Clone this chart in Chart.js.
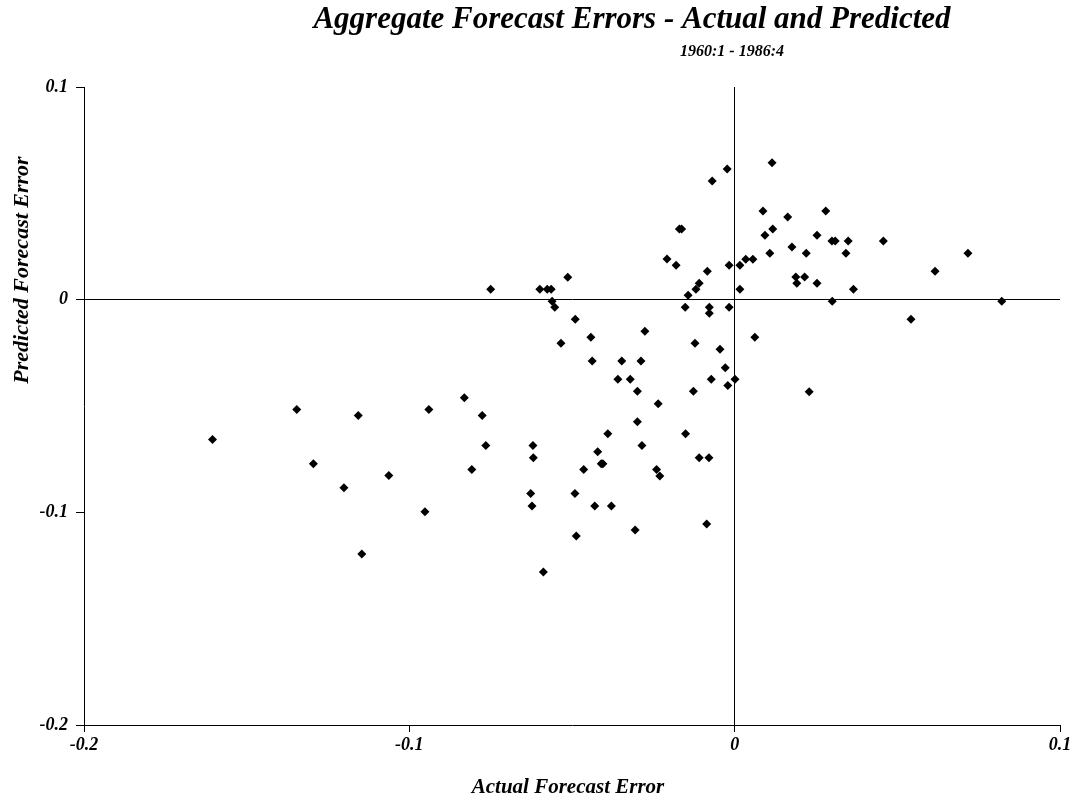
<!DOCTYPE html>
<html>
<head>
<meta charset="utf-8">
<script src="https://cdn.jsdelivr.net/npm/chart.js@4/dist/chart.umd.min.js"></script>
<style>
html,body{margin:0;padding:0;background:#fff;}
#wrap{width:1075px;height:800px;position:relative;}
</style>
</head>
<body>
<div id="wrap"><canvas id="c"></canvas></div>
<script>
// Actual forecast error (x) and predicted forecast error (y)
const actualErr = [
 -0.0750,-0.0599,-0.0576,-0.0564,-0.0561,-0.0553,-0.0513,-0.0490,-0.0534,-0.0442,
 -0.0438,-0.0347,-0.0288,-0.0276,-0.0208,-0.0180,-0.0170,-0.0163,-0.0069,-0.0023,
 -0.0084,-0.0109,-0.0119,-0.0143,-0.0152,-0.0078,-0.0078,-0.0017,-0.0017,-0.0122,
 -0.0045,0.0016,0.0016,
 0.0115,0.0087,0.0093,0.0117,0.0108,0.0034,0.0056,0.0163,0.0176,0.0188,
 0.0191,0.0215,0.0220,0.0253,0.0280,0.0253,0.0299,0.0309,0.0300,0.0349,
 0.0342,0.0365,0.0457,0.0616,0.0717,0.0821,0.0542,0.0062,0.0229,
 -0.1605,-0.1346,-0.1157,-0.0940,-0.0831,-0.1295,-0.1201,-0.1063,-0.0952,-0.1146,
 -0.0808,
 -0.0029,-0.0072,-0.0021,0.0001,-0.0359,-0.0321,-0.0299,-0.0127,-0.0235,-0.0776,
 -0.0299,-0.0390,-0.0151,-0.0765,-0.0620,-0.0619,-0.0285,-0.0421,-0.0410,-0.0405,
 -0.0464,-0.0240,-0.0230,-0.0109,-0.0079,-0.0627,-0.0623,-0.0491,-0.0430,-0.0379,
 -0.0306,-0.0086,-0.0487,-0.0588
];
const predictedErr = [
 0.0049,0.0049,0.0049,0.0049,-0.0008,-0.0036,0.0105,-0.0092,-0.0205,-0.0177,
 -0.0288,-0.0288,-0.0288,-0.0149,0.0191,0.0162,0.0332,0.0332,0.0558,0.0614,
 0.0134,0.0077,0.0049,0.0021,-0.0036,-0.0036,-0.0064,0.0162,-0.0036,-0.0205,
 -0.0233,0.0162,0.0049,
 0.0644,0.0417,0.0303,0.0332,0.0218,0.0190,0.0190,0.0389,0.0248,0.0107,
 0.0077,0.0107,0.0218,0.0303,0.0417,0.0077,0.0276,0.0276,-0.0008,0.0276,
 0.0218,0.0049,0.0276,0.0134,0.0218,-0.0008,-0.0092,-0.0177,-0.0433,
 -0.0658,-0.0517,-0.0545,-0.0517,-0.0461,-0.0771,-0.0884,-0.0827,-0.0997,-0.1196,
 -0.0799,
 -0.0320,-0.0374,-0.0404,-0.0374,-0.0374,-0.0374,-0.0431,-0.0431,-0.0489,-0.0545,
 -0.0574,-0.0630,-0.0630,-0.0686,-0.0686,-0.0743,-0.0686,-0.0715,-0.0771,-0.0771,
 -0.0799,-0.0799,-0.0829,-0.0743,-0.0743,-0.0912,-0.0970,-0.0912,-0.0970,-0.0970,
 -0.1083,-0.1055,-0.1111,-0.1280
];
const axisMin = -0.2, axisMax = 0.1, axisStep = 0.1;
const titleText = 'Aggregate Forecast Errors - Actual and Predicted';
const subtitleText = '1960:1 - 1986:4';
const xTitle = 'Actual Forecast Error';
const yTitle = 'Predicted Forecast Error';

const points = actualErr.map((x, i) => ({x: x, y: predictedErr[i]}));
const FONT = "'Liberation Serif', 'Times New Roman', serif";

const textPlugin = {
  id: 'texts',
  afterDraw(chart) {
    const ctx = chart.ctx;
    ctx.save();
    ctx.fillStyle = '#000';
    ctx.textAlign = 'center';
    ctx.textBaseline = 'middle';
    ctx.font = "italic bold 31px " + FONT;
    ctx.fillText(titleText, 632, 20);
    ctx.font = "italic bold 16px " + FONT;
    ctx.fillText(subtitleText, 732, 52);
    ctx.font = "italic bold 21px " + FONT;
    ctx.fillText(xTitle, 568, 788);
    ctx.translate(22, 270);
    ctx.rotate(-Math.PI / 2);
    ctx.font = "italic bold 22px " + FONT;
    ctx.fillText(yTitle, 0, 0);
    ctx.restore();
  }
};

const fmt = v => { const r = Math.round(v * 10) / 10; return r === 0 ? '0' : String(r); };
const gridColor = c => (c.tick && Math.abs(c.tick.value) < 1e-9) ? '#000' : 'rgba(0,0,0,0)';

new Chart(document.getElementById('c'), {
  type: 'scatter',
  data: {
    datasets: [{
      data: points,
      pointStyle: 'rectRot',
      pointRadius: 4.5,
      pointHoverRadius: 4.5,
      backgroundColor: '#000',
      borderColor: '#000',
      borderWidth: 0
    }]
  },
  options: {
    responsive: true,
    maintainAspectRatio: false,
    animation: false,
    events: [],
    layout: {padding: {top: 87, right: 15, left: 0, bottom: 0}},
    plugins: {legend: {display: false}, tooltip: {enabled: false}, title: {display: false}},
    scales: {
      x: {
        type: 'linear', min: axisMin, max: axisMax,
        afterFit: s => { s.height = 75; },
        ticks: {stepSize: axisStep, callback: fmt, color: '#000', padding: 3, maxRotation: 0,
                font: {family: FONT, size: 18, style: 'italic', weight: 'bold'}},
        grid: {color: gridColor, tickColor: '#000', lineWidth: 1, drawTicks: true, tickLength: 7},
        border: {display: true, color: '#000', width: 1}
      },
      y: {
        type: 'linear', min: axisMin, max: axisMax,
        afterFit: s => { s.width = 84; },
        ticks: {stepSize: axisStep, callback: fmt, color: '#000', padding: 8,
                font: {family: FONT, size: 18, style: 'italic', weight: 'bold'}},
        grid: {color: gridColor, tickColor: '#000', lineWidth: 1, drawTicks: true, tickLength: 8},
        border: {display: true, color: '#000', width: 1}
      }
    }
  },
  plugins: [textPlugin]
});
</script>
</body>
</html>
